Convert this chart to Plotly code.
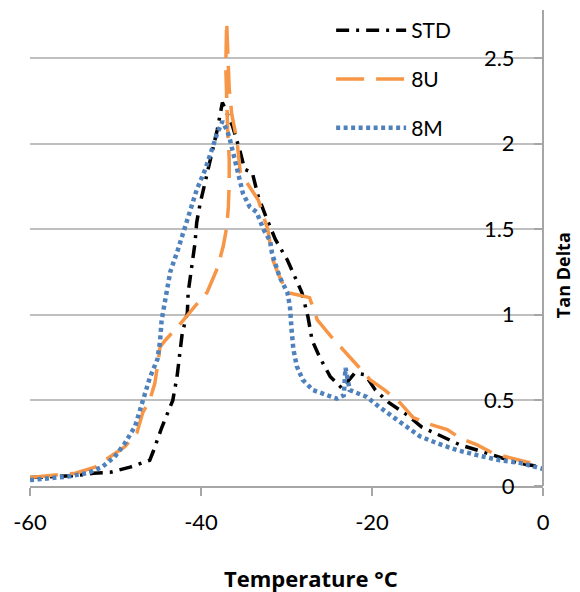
import plotly.graph_objects as go

std_t = [-60, -54.7, -52.6, -50.6, -48.3, -46.0, -45.6, -44.6, -43.3, -42.8, -42.2, -41.6, -41.5, -41.1, -40.7,
         -40.5, -40.1, -39.4, -38.9, -38.1, -37.5, -36.3, -35.4, -34.9, -34.0, -33.3, -32.3, -31.3, -29.9, -29.0,
         -28.2, -27.5, -27.0, -26.1, -24.9, -23.5, -22.0, -20.8, -19.6, -18.1, -15.9, -14.2, -11.8, -9.7, -7.4,
         -5.0, -3.0, 0]
std_v = [0.05, 0.06, 0.075, 0.08, 0.11, 0.15, 0.2, 0.34, 0.5, 0.64, 0.89, 1.01, 1.13, 1.27, 1.42,
         1.54, 1.65, 1.8, 1.9, 2.08, 2.24, 2.1, 1.95, 1.85, 1.83, 1.69, 1.56, 1.44, 1.32, 1.22,
         1.13, 0.99, 0.85, 0.75, 0.64, 0.57, 0.66, 0.65, 0.56, 0.49, 0.415, 0.345, 0.29, 0.24, 0.205,
         0.165, 0.135, 0.11]

u8_t = [-60, -54.7, -52.4, -50.9, -48.9, -47.5, -46.8, -46.0, -45.4, -45.0, -44.8, -44.2, -42.7, -40.7, -39.3,
        -38.1, -37.4, -37.0, -36.8, -36.7, -36.7, -36.9, -37.0, -37.1, -37.0, -36.9, -36.7, -36.4, -35.8, -35.4,
        -34.3, -33.3, -32.2, -31.6, -30.8, -29.9, -27.3, -26.4, -24.9, -23.5, -22.0, -20.2, -18.5, -16.7, -15.2,
        -13.2, -11.2, -9.7, -7.7, -5.8, -3.9, -1.9, 0]
u8_v = [0.05, 0.075, 0.11, 0.16, 0.23, 0.31, 0.43, 0.5, 0.6, 0.73, 0.81, 0.85, 0.93, 1.05, 1.13,
        1.27, 1.4, 1.51, 1.63, 1.77, 1.91, 2.1, 2.33, 2.45, 2.71, 2.55, 2.32, 2.17, 2.02, 1.83,
        1.75, 1.67, 1.5, 1.32, 1.22, 1.13, 1.1, 0.97, 0.88, 0.8, 0.72, 0.62, 0.56, 0.485, 0.40,
        0.36, 0.33, 0.28, 0.24, 0.19, 0.165, 0.14, 0.12]

m8_t = [-60, -55.6, -53.3, -51.6, -50.1, -48.9, -47.7, -46.9, -46.0, -45.1, -44.8, -44.6, -43.6, -42.7, -41.9,
        -41.3, -40.5, -39.5, -38.7, -38.1, -37.5, -36.9, -36.6, -36.0, -35.4, -35.1, -34.3, -33.5, -32.7, -31.9,
        -31.7, -30.8, -29.9, -29.6, -29.4, -29.2, -28.8, -28.1, -26.9, -25.3, -24.1, -23.3, -23.1, -22.6, -20.6,
        -19.1, -17.5, -16.4, -14.4, -12.4, -10.1, -7.7, -5.0, -2.7, 0]
m8_v = [0.035, 0.055, 0.075, 0.11, 0.17, 0.25, 0.35, 0.48, 0.63, 0.74, 0.84, 0.97, 1.25, 1.38, 1.51,
        1.6, 1.73, 1.85, 1.98, 2.06, 2.13, 2.07, 2.02, 1.9, 1.79, 1.71, 1.63, 1.6, 1.5, 1.43,
        1.36, 1.22, 1.13, 1.05, 0.91, 0.8, 0.7, 0.62, 0.56, 0.53, 0.51, 0.53, 0.69, 0.56, 0.52,
        0.46, 0.40, 0.36, 0.29, 0.25, 0.21, 0.18, 0.15, 0.135, 0.10]

x_ticks = [-60, -40, -20, 0]
x_tick_text = ["-60", "-40", "-20", "0"]
y_ticks = [0, 0.5, 1, 1.5, 2, 2.5]
y_tick_text = ["0", "0.5", "1", "1.5", "2", "2.5"]

FONT = "Lato"
TITLE_FONT = "Open Sans"
AXIS_GREY = "#A6A6A6"

fig = go.Figure()
fig.add_trace(go.Scatter(x=std_t, y=std_v, mode="lines", name="STD", legendgroup="a",
                         line=dict(color="black", width=3.5, dash="13px,7px,3px,7px")))
fig.add_trace(go.Scatter(x=u8_t, y=u8_v, mode="lines", name="8U", legendgroup="b",
                         line=dict(color="#F79646", width=3.5, dash="28px,12px")))
fig.add_trace(go.Scatter(x=m8_t, y=m8_v, mode="lines", name="8M", legendgroup="c",
                         line=dict(color="#4F81BD", width=4.5, dash="4px,3.5px")))

# the page body adds an 8px offset; margins compensate so the plot lands where the reference has it
fig.update_layout(
    width=580, height=592,
    margin=dict(l=22, r=45, t=2, b=114),
    plot_bgcolor="white", paper_bgcolor="white",
    font=dict(family=FONT, size=22, color="black"),
    showlegend=True,
    legend=dict(x=0.587, y=1.0, xanchor="left", yanchor="top", bgcolor="rgba(0,0,0,0)",
                font=dict(size=21), tracegroupgap=18.5, itemwidth=70),
    xaxis=dict(range=[-60, 0], tickvals=x_ticks, ticktext=x_tick_text, ticks="outside", ticklen=8,
               tickcolor=AXIS_GREY, tickwidth=2, showline=True, linecolor=AXIS_GREY, linewidth=2,
               showgrid=False, zeroline=False, ticklabelstandoff=8, automargin=False,
               tickfont=dict(size=22)),
    yaxis=dict(range=[0, 2.78], side="left", anchor="free", position=1.0,
               tickvals=y_ticks, ticktext=y_tick_text, tickfont=dict(size=22),
               ticks="outside", ticklen=8, tickcolor=AXIS_GREY, tickwidth=2, ticklabelstandoff=15,
               showline=True, linecolor=AXIS_GREY, linewidth=2, automargin=False,
               showgrid=True, gridcolor="#BFBFBF", gridwidth=1.5, zeroline=False),
    annotations=[
        dict(text="<b>Tan Delta</b>", textangle=-90, xref="paper", yref="paper",
             x=1.0, y=0.443, xanchor="center", yanchor="middle", xshift=20,
             showarrow=False, font=dict(family=TITLE_FONT, size=18)),
        dict(text="<b>Temperature °C</b>", xref="paper", yref="paper",
             x=0.5, y=0.0, xanchor="center", yanchor="middle", xshift=24, yshift=-92,
             showarrow=False, font=dict(family=TITLE_FONT, size=22)),
    ],
)

fig.write_html("out.html")
